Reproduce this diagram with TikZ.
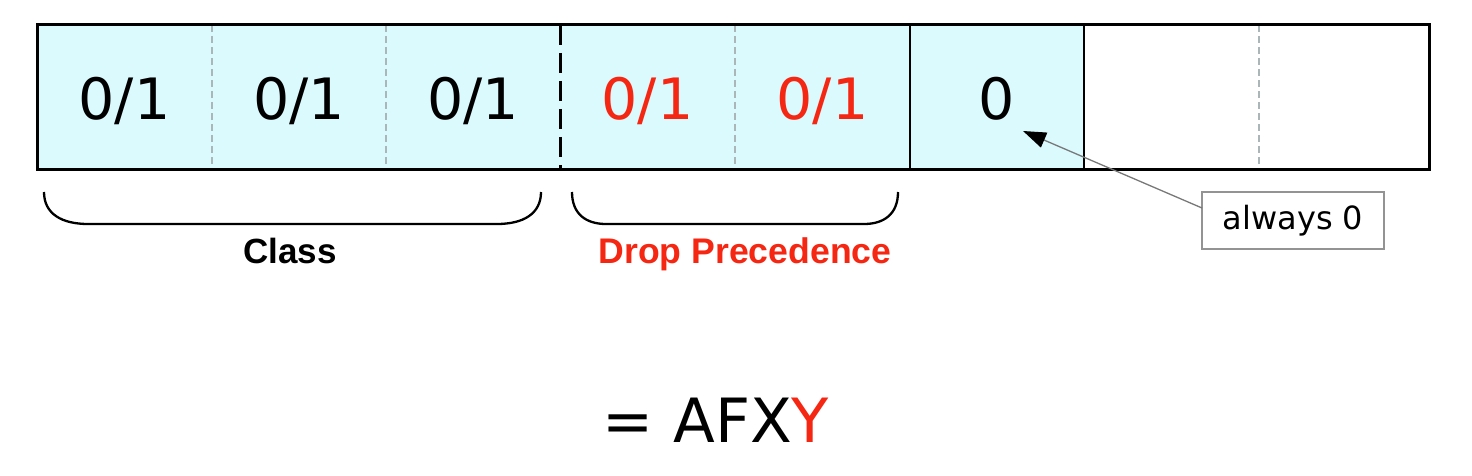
\documentclass[tikz,border=0pt]{standalone}
\usepackage{fontspec}
\setmainfont{DejaVu Sans}
\newfontfamily\lblfont{Liberation Sans}
\usetikzlibrary{arrows.meta}
\definecolor{cellfill}{RGB}{218,250,253}
\definecolor{hired}{RGB}{245,38,18}
\definecolor{divgray}{RGB}{170,182,184}
\definecolor{notegray}{RGB}{120,120,120}
\begin{document}
\begin{tikzpicture}[x=1pt,y=-1pt,
  bit/.style={font=\fontsize{57}{60}\selectfont, inner sep=0pt, anchor=base},
  lbl/.style={font=\lblfont\bfseries\fontsize{35}{40}\selectfont, inner sep=0pt, anchor=base},
  thindiv/.style={draw=divgray, line width=1.1pt, dash pattern=on 7pt off 4pt},
  bracestyle/.style={draw=black, line width=2.3pt},
  notebox/.style={draw=notegray!80, line width=1.3pt, fill=white, minimum width=182pt, minimum height=57pt, inner sep=0pt, font=\fontsize{32}{35}\selectfont},
  pointer/.style={draw=notegray, line width=1.3pt, -{Triangle[length=23pt,width=16pt,color=black]}}
]
\useasboundingbox (0,0) rectangle (1472,476);
% bar
\fill[cellfill] (37,25) rectangle (1084,169);
\draw[thindiv] (212,25) -- (212,169);
\draw[thindiv] (386,25) -- (386,169);
\draw[thindiv] (735,25) -- (735,169);
\draw[thindiv] (1259,25) -- (1259,169);
\draw[line width=3pt, dash pattern=on 20pt off 8pt] (560,25) -- (560,169);
\draw[line width=2.6pt] (910,25) -- (910,169);
\draw[line width=2.6pt] (1084,25) -- (1084,169);
\draw[line width=3pt] (37,25) rectangle (1429,169);
% bits
\node[bit] (b1) at (124.5,120) {0/1};
\node[bit] (b2) at (299,120) {0/1};
\node[bit] (b3) at (473,120) {0/1};
\node[bit, text=hired] (b4) at (647.5,120) {0/1};
\node[bit, text=hired] (b5) at (822.5,120) {0/1};
\node[bit] (zero) at (997,120) {0};
% braces
\draw[bracestyle] (44,192) .. controls (44,214) and (62,224) .. (88,224) -- (497,224) .. controls (523,224) and (541,214) .. (541,192);
\draw[bracestyle] (572,192) .. controls (572,214) and (586,224) .. (606,224) -- (864,224) .. controls (884,224) and (898,214) .. (898,192);
\node[lbl] (class) at (290,263) {Class};
\node[lbl, text=hired, font=\lblfont\bfseries\fontsize{35.6}{40}\selectfont] (drop) at (745,263) {Drop Precedence};
% note
\node[notebox] (note) at (1293,220.5) {always 0};
\coordinate (tip) at (1023,131);
\coordinate (from) at (1202,208);
\draw[pointer] (from) -- (tip);
% result
\node[font=\fontsize{61}{64}\selectfont, inner sep=0pt, anchor=base] (res) at (716,442) {= AFX\textcolor{hired}{Y}};
\end{tikzpicture}
\end{document}
